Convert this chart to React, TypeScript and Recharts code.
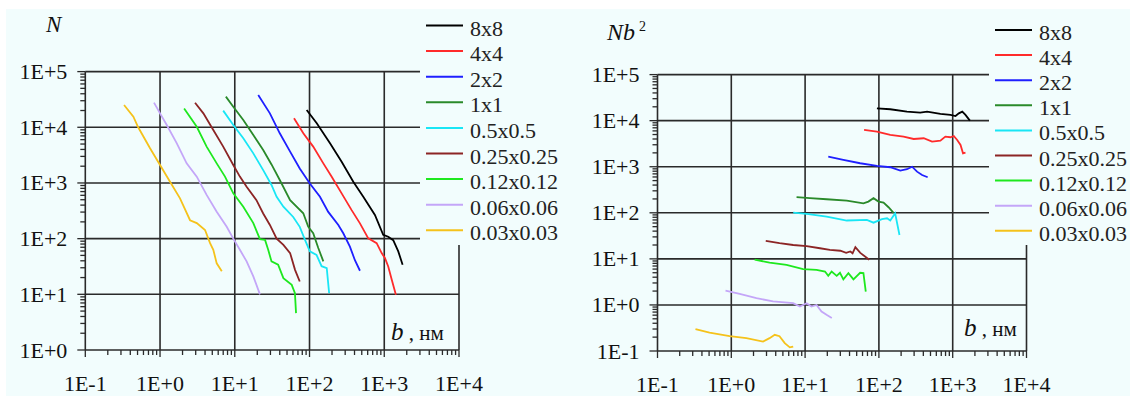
import React from 'react';
import { LineChart, Line, XAxis, YAxis, ReferenceLine } from 'recharts';

const SERIES_NAMES = ['8x8', '4x4', '2x2', '1x1', '0.5x0.5', '0.25x0.25', '0.12x0.12', '0.06x0.06', '0.03x0.03'];
const SERIES_COLORS = ['#000000', '#ff2b2b', '#1f1fff', '#2a8a2a', '#19e6f5', '#8c2525', '#1ee81e', '#c4a6f8', '#f5c21b'];

const B_TICKS = [0.1, 1, 10, 100, 1000, 10000];
const N_TICKS = [1, 10, 100, 1000, 10000, 100000];
const NB2_TICKS = [0.1, 1, 10, 100, 1000, 10000, 100000];

// N(b): [b, N]
const N_8x8: [number, number][] = [[91.6, 20500], [125, 11800], [188, 5150], [269, 2400], [385, 1050], [524, 565], [750, 266], [968, 117], [1130, 108], [1318, 94], [1540, 59], [1760, 34]];
const N_4x4: [number, number][] = [[62, 14500], [82.6, 7800], [112, 4500], [153, 2250], [198, 1290], [269, 650], [366, 325], [473, 188], [611, 101], [791, 83], [923, 55], [1020, 45], [1130, 31.6], [1260, 18.3], [1430, 9.8]];
const N_2x2: [number, number][] = [[20.6, 38000], [29.5, 17800], [40, 7800], [55, 3650], [74, 1820], [101, 980], [138, 565], [178, 302], [243, 176], [283, 125], [347, 72], [405, 41], [473, 26.5]];
const N_1x1: [number, number][] = [[7.6, 35500], [9.55, 23400], [13, 13500], [17.7, 7250], [24, 3900], [31, 2150], [40, 1130], [55, 490], [82.5, 285], [96, 164], [112, 125], [131, 68], [153, 39]];
const N_05: [number, number][] = [[7.0, 19900], [9.55, 11000], [13, 6350], [17.7, 3400], [24, 1700], [31, 920], [36.3, 565], [44.7, 375], [60.5, 245], [74, 163], [87, 95], [101, 59], [124, 51], [145, 32], [170, 29.5], [183, 10.5]];
const N_025: [number, number][] = [[2.94, 27600], [3.8, 17800], [5.16, 8950], [7.0, 4500], [9.55, 2100], [11.7, 1300], [14.4, 855], [19.5, 490], [24, 283], [29.5, 176], [36.3, 100], [44.7, 77], [55, 55], [64, 27.5], [74, 17]];
const N_012: [number, number][] = [[2.1, 21800], [3.1, 10200], [4.2, 4500], [5.73, 2250], [7.4, 1300], [9.55, 650], [13, 375], [17.7, 190], [21.7, 98], [25.4, 95], [28, 63], [31, 39], [38, 34], [44.7, 19.5], [57.8, 14.8], [63.8, 10.5], [66, 4.6]];
const N_006: [number, number][] = [[0.83, 27700], [1, 17800], [1.23, 11000], [1.67, 5200], [2.27, 2250], [3.1, 1300], [4.2, 610], [5.73, 305], [7.8, 163], [9.55, 100], [11.7, 63], [14.4, 39], [17.7, 21], [21.7, 10]];
const N_003: [number, number][] = [[0.33, 25100], [0.44, 15500], [0.51, 10000], [0.735, 4200], [1, 2100], [1.36, 1050], [1.85, 530], [2.52, 214], [3.1, 190], [4.0, 143], [4.67, 83], [5.16, 63], [5.73, 36], [6.7, 26]];

// Nb^2(b): [b, Nb^2]
const NB2_8x8: [number, number][] = [[94, 18500], [142.5, 17700], [240, 15700], [363, 14900], [450, 15700], [682, 14000], [933, 13300], [1092, 12600], [1210, 14400], [1349, 15700], [1490, 13300], [1710, 10000]];
const NB2_4x4: [number, number][] = [[63, 6300], [94, 5780], [142.5, 4900], [216, 4500], [296, 4000], [405, 4150], [525, 3500], [681, 3680], [795, 4500], [933, 4370], [1035, 4650], [1150, 3800], [1277, 2970], [1380, 1950], [1490, 2020]];
const NB2_2x2: [number, number][] = [[20.6, 1660], [33, 1410], [55.7, 1190], [94, 1040], [142.5, 975], [195, 823], [240, 883], [282, 1000], [329, 783], [385, 662], [458, 590]];
const NB2_1x1: [number, number][] = [[7.66, 219], [11.6, 208], [19.6, 197], [36.7, 184], [61.7, 161], [72, 175], [84.5, 208], [98.8, 175], [115.6, 166], [135, 132], [158, 100]];
const NB2_05: [number, number][] = [[6.9, 101], [10.5, 94.6], [19.6, 83], [36.7, 68], [68.7, 70], [84.5, 61], [110, 73], [129, 76], [142.5, 68], [166, 98], [190, 33]];
const NB2_025: [number, number][] = [[2.93, 24.5], [4.5, 21.9], [6.9, 20], [10.5, 19], [15.9, 17], [21.7, 15.7], [30, 15], [36, 13.5], [41, 14.5], [44, 13.2], [48, 18], [56, 13.5], [74, 9.6]];
const NB2_012: [number, number][] = [[2.07, 9.6], [3.3, 8.3], [5.6, 7.4], [9.4, 6.0], [14.3, 5.76], [18.6, 5.3], [20.6, 4.27], [22.9, 5.3], [26.8, 4.27], [29.7, 5.0], [33, 3.6], [38.6, 4.9], [45.2, 3.6], [55.7, 5.0], [61.7, 4.9], [66.4, 1.95]];
const NB2_006: [number, number][] = [[0.835, 2.04], [1.3, 1.73], [2.19, 1.4], [3.68, 1.19], [6.9, 1.09], [8.5, 0.92], [10.5, 1.09], [12.2, 0.92], [14.3, 1.0], [16.7, 0.72], [19.5, 0.61], [23, 0.52]];
const NB2_003: [number, number][] = [[0.327, 0.3], [0.507, 0.25], [0.95, 0.21], [1.6, 0.19], [2.69, 0.16], [3.3, 0.19], [3.88, 0.225], [4.5, 0.21], [5.3, 0.148], [6.2, 0.12], [6.9, 0.125]];

const N_SERIES = [N_8x8, N_4x4, N_2x2, N_1x1, N_05, N_025, N_012, N_006, N_003];
const NB2_SERIES = [NB2_8x8, NB2_4x4, NB2_2x2, NB2_1x1, NB2_05, NB2_025, NB2_012, NB2_006, NB2_003];

const BG = '#f2fdfd';
const INK = '#2a2a2a';
const FONT = '"Times New Roman", Times, "Liberation Serif", "DejaVu Serif", "Noto Serif", serif';

const fmt = (v: number) => {
  const e = Math.round(Math.log10(v));
  return `1E${e < 0 ? '-' : '+'}${Math.abs(e)}`;
};
const isMajor = (v: number) => Math.abs(Math.log10(v) - Math.round(Math.log10(v))) < 1e-6;
// majors plus 2..9 in every decade
const withMinor = (majors: number[]) => {
  const out: number[] = [];
  majors.forEach((m, i) => {
    out.push(m);
    if (i < majors.length - 1) for (let k = 2; k <= 9; k++) out.push(+(m * k).toPrecision(6));
  });
  return out;
};

function XTick({ x, y, payload }: any) {
  const major = isMajor(payload.value);
  return (
    <g>
      <line x1={x} x2={x} y1={y} y2={y + (major ? 7 : 5)} stroke={INK} strokeWidth={1.3} />
      {major && (
        <text x={x} y={y + 41} textAnchor="middle" fontFamily={FONT} fontSize={22} fill="#111">
          {fmt(payload.value)}
        </text>
      )}
    </g>
  );
}

function YTick({ x, y, payload }: any) {
  const major = isMajor(payload.value);
  return (
    <g>
      <line x1={x - (major ? 8 : 5)} x2={x} y1={y} y2={y} stroke={INK} strokeWidth={1.3} />
      {major && (
        <text x={x - 18} y={y + 7.5} textAnchor="end" fontFamily={FONT} fontSize={22} fill="#111">
          {fmt(payload.value)}
        </text>
      )}
    </g>
  );
}

function Legend({ top, step }: { top: number; step: number }) {
  return (
    <svg width={145} height={236} style={{ position: 'absolute', left: 0, top: 0, background: BG }}>
      {SERIES_NAMES.map((name, i) => {
        const y = top + i * step;
        return (
          <g key={name}>
            <line x1={6} x2={43} y1={y} y2={y} stroke={SERIES_COLORS[i]} strokeWidth={2} />
            <text x={50} y={y + 10} fontFamily={FONT} fontSize={22} fill="#222">
              {name}
            </text>
          </g>
        );
      })}
    </svg>
  );
}

function Panel({
  series,
  yTicks,
  margin,
  xAxisHeight,
}: {
  series: [number, number][][];
  yTicks: number[];
  margin: { top: number; right: number; bottom: number; left: number };
  xAxisHeight: number;
}) {
  return (
    <LineChart width={565} height={396} margin={margin}>
      <XAxis
        dataKey="b"
        type="number"
        scale="log"
        domain={[B_TICKS[0], B_TICKS[B_TICKS.length - 1]]}
        ticks={withMinor(B_TICKS)}
        interval={0}
        height={xAxisHeight}
        axisLine={false}
        tickLine={false}
        tickSize={0}
        tickMargin={0}
        tick={<XTick />}
        allowDataOverflow
      />
      <YAxis
        type="number"
        scale="log"
        domain={[yTicks[0], yTicks[yTicks.length - 1]]}
        ticks={withMinor(yTicks)}
        interval={0}
        width={60}
        axisLine={false}
        tickLine={false}
        tickSize={0}
        tickMargin={0}
        tick={<YTick />}
        allowDataOverflow
      />
      {yTicks.map((v) => (
        <ReferenceLine key={'h' + v} y={v} stroke={INK} strokeWidth={1.6} ifOverflow="extendDomain" />
      ))}
      {B_TICKS.map((v) => (
        <ReferenceLine key={'v' + v} x={v} stroke={INK} strokeWidth={1.6} ifOverflow="extendDomain" />
      ))}
      {series.map((pts, i) => (
        <Line
          key={SERIES_NAMES[i]}
          data={pts.map(([b, v]) => ({ b, v }))}
          dataKey="v"
          type="linear"
          stroke={SERIES_COLORS[i]}
          strokeWidth={1.8}
          dot={false}
          isAnimationActive={false}
        />
      ))}
    </LineChart>
  );
}

export default function App() {
  return (
    <div style={{ position: 'absolute', left: 0, top: 0, width: 1130, height: 396, background: '#fff', overflow: 'hidden', fontFamily: FONT }}>
      <div style={{ position: 'absolute', left: 6, top: 9, width: 1124, height: 387, background: BG }} />

      <div style={{ position: 'absolute', left: 0, top: 0 }}>
        <Panel series={N_SERIES} yTicks={N_TICKS} margin={{ top: 71.6, right: 106, bottom: 0, left: 25.3 }} xAxisHeight={46} />
      </div>
      <div style={{ position: 'absolute', left: 420, top: 9 }}>
        <Legend top={16.5} step={25.6} />
      </div>
      <div style={{ position: 'absolute', left: 46, top: 12, fontSize: 23, fontStyle: 'italic', color: '#111' }}>N</div>
      <div style={{ position: 'absolute', left: 391, top: 318, color: '#111', whiteSpace: 'nowrap' }}>
        <span style={{ fontStyle: 'italic', fontSize: 25 }}>b</span>
        <span style={{ fontSize: 21 }}> , нм</span>
      </div>

      <div style={{ position: 'absolute', left: 565, top: 0 }}>
        <Panel series={NB2_SERIES} yTicks={NB2_TICKS} margin={{ top: 74.6, right: 103.5, bottom: 0, left: 32.5 }} xAxisHeight={45} />
      </div>
      <div style={{ position: 'absolute', left: 989, top: 9 }}>
        <Legend top={21} step={25.1} />
      </div>
      <div style={{ position: 'absolute', left: 607, top: 19, fontSize: 24, fontStyle: 'italic', color: '#111', whiteSpace: 'nowrap' }}>
        Nb<sup style={{ fontSize: 14, fontStyle: 'normal', marginLeft: 4 }}>2</sup>
      </div>
      <div style={{ position: 'absolute', left: 964, top: 314, color: '#111', whiteSpace: 'nowrap' }}>
        <span style={{ fontStyle: 'italic', fontSize: 25 }}>b</span>
        <span style={{ fontSize: 21 }}> , нм</span>
      </div>
    </div>
  );
}
